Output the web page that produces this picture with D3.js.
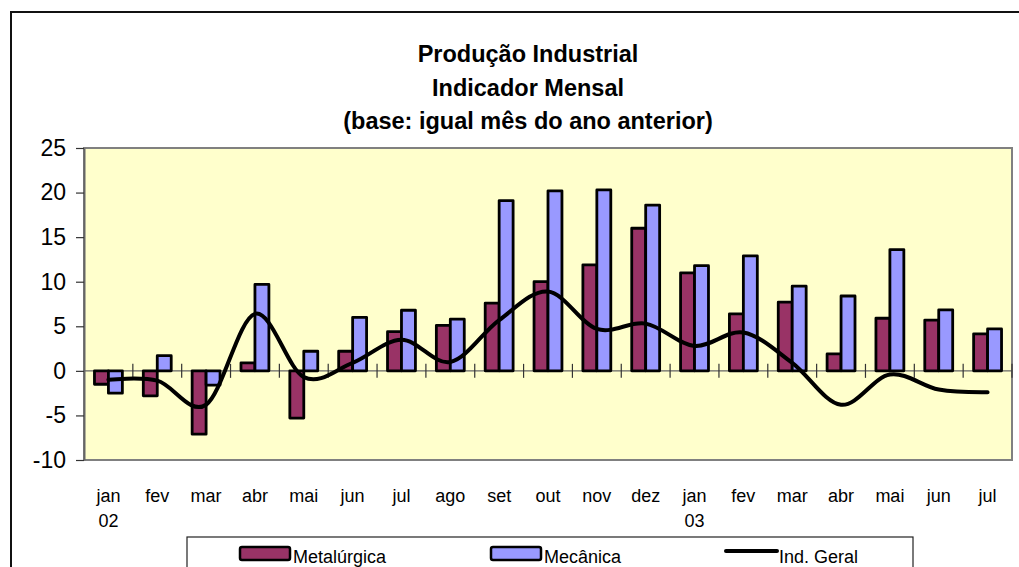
<!DOCTYPE html>
<html><head><meta charset="utf-8">
<script src="https://cdn.jsdelivr.net/npm/d3@7/dist/d3.min.js"></script>
<style>body{margin:0;background:#fff}svg{display:block;font-family:"Liberation Sans",Arial,sans-serif}</style>
</head><body>
<svg id="c" width="1019" height="567"></svg>
<script>
const months = ["jan","fev","mar","abr","mai","jun","jul","ago","set","out","nov","dez","jan","fev","mar","abr","mai","jun","jul"];
const years = ["02","","","","","","","","","","","","03","","","","","",""];
const metalurgica = [-1.5,-2.8,-7.1,0.9,-5.3,2.2,4.4,5.1,7.6,10.0,11.9,16.0,11.0,6.4,7.7,1.9,5.9,5.7,4.15];
const mecanica = [-2.5,1.7,-1.6,9.7,2.2,6.0,6.8,5.8,19.1,20.2,20.3,18.6,11.8,12.9,9.5,8.4,13.6,6.85,4.7];
const indGeral = [-1.0,-1.1,-3.8,6.4,-0.7,0.9,3.5,1.0,5.7,8.9,4.7,5.3,2.8,4.3,0.9,-3.8,-0.4,-2.1,-2.4];
const yTicks = [-10,-5,0,5,10,15,20,25];
const titleLines = ["Produção Industrial","Indicador Mensal","(base: igual mês do ano anterior)"];
const seriesNames = ["Metalúrgica","Mecânica","Ind. Geral"];
const colors = {met:"#993366", mec:"#9999FF"};

const svg = d3.select("#c");
const L=84,R=1012,T=148,B=460;
const idx = months.map((d,i)=>i);
const x = d3.scaleBand().domain(idx).range([L,R]).padding(0);
const y = d3.scaleLinear().domain([-10,25]).range([B,T]);
const bw = x.bandwidth()/3.5;

// outer border
svg.append("rect").attr("x",11).attr("y",12).attr("width",1200).attr("height",700)
  .attr("fill","#fff").attr("stroke","#111").attr("stroke-width",2);

// title
svg.append("g").selectAll("text").data(titleLines).join("text")
  .attr("x",528).attr("y",(d,i)=>62+i*33.5).attr("text-anchor","middle")
  .attr("font-size",23.5).attr("font-weight","bold").attr("fill","#000").text(d=>d);

// plot area
svg.append("rect").attr("x",L).attr("y",T).attr("width",R-L).attr("height",B-T)
  .attr("fill","#FFFFCC").attr("stroke","#808080").attr("stroke-width",2);

// y axis
const yAxis = d3.axisLeft(y).tickValues(yTicks).tickFormat(d=>String(d)).tickSize(8).tickPadding(10).tickSizeOuter(0);
const gy = svg.append("g").attr("transform",`translate(${L},0)`).call(yAxis);
gy.select(".domain").attr("stroke","#666").attr("stroke-width",2);
gy.selectAll(".tick line").attr("stroke","#333").attr("stroke-width",1.2);
gy.selectAll(".tick text").attr("font-size",23).attr("fill","#000").attr("font-family","Liberation Sans, Arial, sans-serif");

// zero line with crossing category ticks
svg.append("line").attr("x1",L).attr("x2",R).attr("y1",y(0)).attr("y2",y(0)).attr("stroke","#666").attr("stroke-width",1.2);
const bounds = idx.map(i=>x(i)).concat([R]).slice(1);
svg.append("g").selectAll("line").data(bounds).join("line")
  .attr("x1",d=>d).attr("x2",d=>d).attr("y1",y(0)-7).attr("y2",y(0)+7).attr("stroke","#333").attr("stroke-width",1.2);

// bars
const gb = svg.append("g");
gb.selectAll("rect.met").data(metalurgica).join("rect").attr("class","met")
  .attr("x",(d,i)=>x(i)+x.bandwidth()/2-bw).attr("width",bw)
  .attr("y",d=>y(Math.max(0,d))).attr("height",d=>Math.abs(y(d)-y(0)))
  .attr("fill",colors.met).attr("stroke","#000").attr("stroke-width",2.8).attr("stroke-linejoin","round");
gb.selectAll("rect.mec").data(mecanica).join("rect").attr("class","mec")
  .attr("x",(d,i)=>x(i)+x.bandwidth()/2).attr("width",bw)
  .attr("y",d=>y(Math.max(0,d))).attr("height",d=>Math.abs(y(d)-y(0)))
  .attr("fill",colors.mec).attr("stroke","#000").attr("stroke-width",2.8).attr("stroke-linejoin","round");

// line
const line = d3.line().x((d,i)=>x(i)+x.bandwidth()/2).y(d=>y(d)).curve(d3.curveCardinal.tension(0));
svg.append("path").datum(indGeral).attr("d",line).attr("fill","none").attr("stroke","#000")
  .attr("stroke-width",4).attr("stroke-linecap","round").attr("stroke-linejoin","round");

// x labels
const gx = svg.append("g");
gx.selectAll("text.m").data(months).join("text").attr("class","m")
  .attr("x",(d,i)=>x(i)+x.bandwidth()/2).attr("y",502).attr("text-anchor","middle")
  .attr("font-size",18).attr("fill","#000").text(d=>d);
gx.selectAll("text.yr").data(years).join("text").attr("class","yr")
  .attr("x",(d,i)=>x(i)+x.bandwidth()/2).attr("y",527).attr("text-anchor","middle")
  .attr("font-size",18).attr("fill","#000").text(d=>d);

// legend
const lg = svg.append("g");
lg.append("rect").attr("x",187).attr("y",537).attr("width",726).attr("height",60)
  .attr("fill","#fff").attr("stroke","#222").attr("stroke-width",1.2);
const items = [
  {name:seriesNames[0], x:240, type:"rect", color:colors.met},
  {name:seriesNames[1], x:491, type:"rect", color:colors.mec},
  {name:seriesNames[2], x:726, type:"line"}
];
items.forEach(it=>{
  if(it.type==="rect"){
    lg.append("rect").attr("x",it.x).attr("y",547).attr("width",50).attr("height",13).attr("rx",2)
      .attr("fill",it.color).attr("stroke","#000").attr("stroke-width",2.5);
  } else {
    lg.append("line").attr("x1",it.x).attr("x2",it.x+51).attr("y1",551).attr("y2",551)
      .attr("stroke","#000").attr("stroke-width",4).attr("stroke-linecap","round");
  }
  lg.append("text").attr("x",it.x+53).attr("y",563).attr("font-size",18).attr("fill","#000").text(it.name);
});
</script>
</body></html>
